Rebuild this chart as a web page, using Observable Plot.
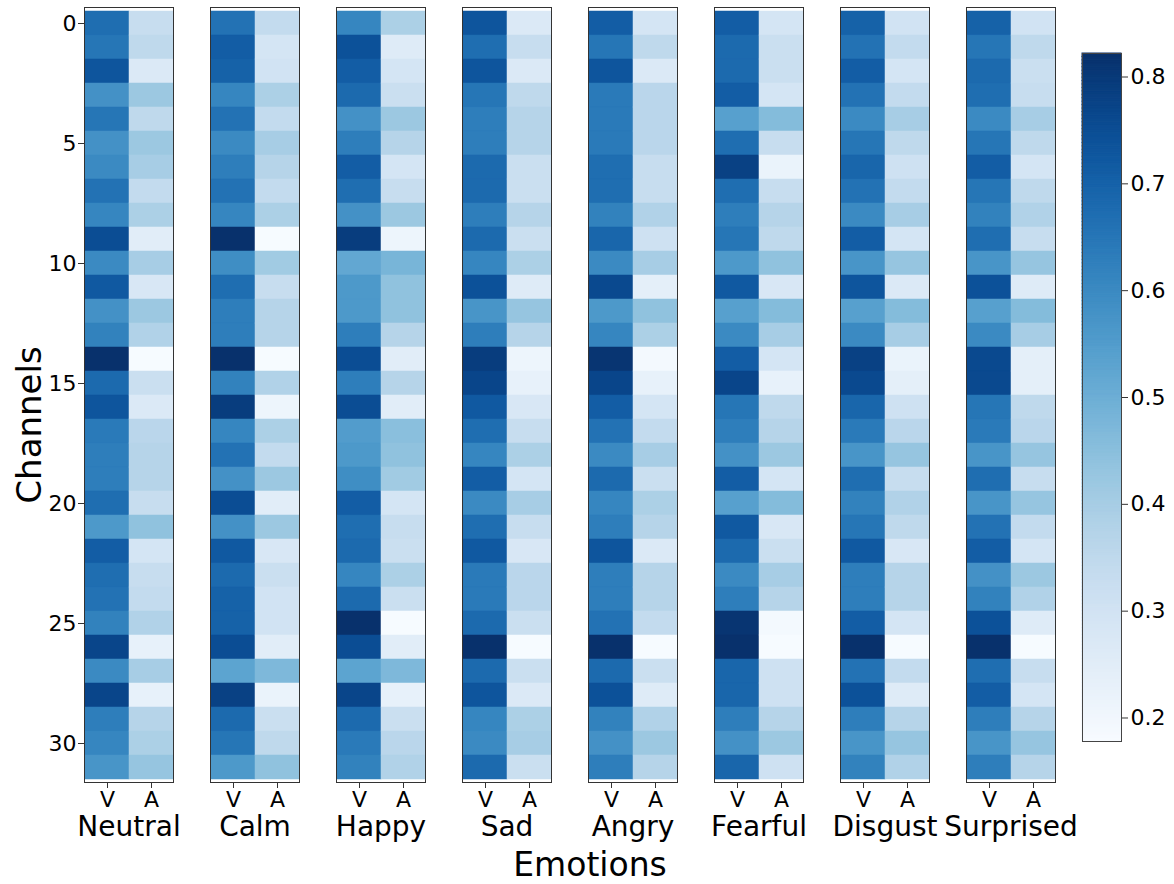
<!DOCTYPE html>
<html><head><meta charset="utf-8">
<script src="https://cdn.jsdelivr.net/npm/d3@7"></script>
<script src="https://cdn.jsdelivr.net/npm/@observablehq/plot@0.6"></script>
<style>
body{margin:0;background:#fff;font-family:"DejaVu Sans",sans-serif}
#wrap{position:relative;width:1174px;height:884px}
#main{position:absolute;left:0;top:0}
#cbar{position:absolute;left:1040px;top:0}
</style></head><body><div id="wrap"><div id="main"></div><div id="cbar"></div></div>
<script>
const emotions = ["Neutral","Calm","Happy","Sad","Angry","Fearful","Disgust","Surprised"];
const dims = ["V","A"];
const channels = d3.range(32);
const yTicks = [0,5,10,15,20,25,30];
const cbarTicks = [0.2,0.3,0.4,0.5,0.6,0.7,0.8];
const cMin = 0.178, cMax = 0.822;

const neutralV = [0.67,0.65,0.73,0.58,0.65,0.58,0.60,0.66,0.61,0.75,0.60,0.72,0.58,0.62,0.82,0.68,0.73,0.64,0.63,0.63,0.67,0.56,0.71,0.67,0.66,0.62,0.77,0.60,0.77,0.63,0.61,0.57];
const neutralA = [0.33,0.35,0.27,0.42,0.35,0.42,0.40,0.34,0.39,0.25,0.40,0.28,0.42,0.38,0.18,0.32,0.27,0.36,0.37,0.37,0.33,0.44,0.29,0.33,0.34,0.38,0.23,0.40,0.23,0.37,0.39,0.43];
const calmV = [0.66,0.71,0.70,0.61,0.66,0.60,0.63,0.66,0.61,0.82,0.59,0.67,0.63,0.63,0.82,0.62,0.79,0.61,0.66,0.58,0.75,0.58,0.72,0.68,0.70,0.70,0.75,0.53,0.78,0.68,0.65,0.56];
const calmA = [0.34,0.29,0.30,0.39,0.34,0.40,0.37,0.34,0.39,0.18,0.41,0.33,0.37,0.37,0.18,0.38,0.21,0.39,0.34,0.42,0.25,0.42,0.28,0.32,0.30,0.30,0.25,0.47,0.22,0.32,0.35,0.44];
const happyV = [0.61,0.74,0.71,0.68,0.58,0.63,0.71,0.67,0.58,0.79,0.52,0.56,0.56,0.63,0.75,0.63,0.75,0.55,0.56,0.59,0.71,0.67,0.68,0.61,0.68,0.82,0.75,0.53,0.77,0.68,0.64,0.62];
const happyA = [0.39,0.26,0.29,0.32,0.42,0.37,0.29,0.33,0.42,0.21,0.48,0.44,0.44,0.37,0.25,0.37,0.25,0.45,0.44,0.41,0.29,0.33,0.32,0.39,0.32,0.18,0.25,0.47,0.23,0.32,0.36,0.38];
const sadV = [0.73,0.67,0.73,0.65,0.63,0.63,0.68,0.68,0.63,0.68,0.61,0.74,0.57,0.63,0.79,0.77,0.72,0.67,0.61,0.71,0.60,0.67,0.72,0.64,0.64,0.68,0.82,0.68,0.73,0.61,0.60,0.68];
const sadA = [0.27,0.33,0.27,0.35,0.37,0.37,0.32,0.32,0.37,0.32,0.39,0.26,0.43,0.37,0.21,0.23,0.28,0.33,0.39,0.29,0.40,0.33,0.28,0.36,0.36,0.32,0.18,0.32,0.27,0.39,0.40,0.32];
const angryV = [0.71,0.65,0.73,0.64,0.64,0.64,0.67,0.67,0.62,0.69,0.60,0.76,0.56,0.61,0.81,0.77,0.71,0.66,0.60,0.68,0.61,0.63,0.73,0.63,0.63,0.66,0.82,0.68,0.74,0.62,0.58,0.63];
const angryA = [0.29,0.35,0.27,0.36,0.36,0.36,0.33,0.33,0.38,0.31,0.40,0.24,0.44,0.39,0.19,0.23,0.29,0.34,0.40,0.32,0.39,0.37,0.27,0.37,0.37,0.34,0.18,0.32,0.26,0.38,0.42,0.37];
const fearfulV = [0.71,0.68,0.68,0.71,0.54,0.67,0.78,0.67,0.63,0.65,0.56,0.72,0.54,0.60,0.71,0.77,0.65,0.63,0.58,0.71,0.54,0.72,0.68,0.60,0.63,0.81,0.82,0.69,0.69,0.63,0.58,0.69];
const fearfulA = [0.29,0.32,0.32,0.29,0.46,0.33,0.22,0.33,0.37,0.35,0.44,0.28,0.46,0.40,0.29,0.23,0.35,0.37,0.42,0.29,0.46,0.28,0.32,0.40,0.37,0.19,0.18,0.31,0.31,0.37,0.42,0.31];
const disgustV = [0.70,0.66,0.71,0.66,0.60,0.65,0.69,0.66,0.60,0.71,0.57,0.73,0.54,0.60,0.78,0.76,0.69,0.64,0.57,0.67,0.62,0.65,0.72,0.63,0.63,0.71,0.82,0.66,0.74,0.63,0.57,0.62];
const disgustA = [0.30,0.34,0.29,0.34,0.40,0.35,0.31,0.34,0.40,0.29,0.43,0.27,0.46,0.40,0.22,0.24,0.31,0.36,0.43,0.33,0.38,0.35,0.28,0.37,0.37,0.29,0.18,0.34,0.26,0.37,0.43,0.38];
const surprisedV = [0.70,0.65,0.68,0.67,0.60,0.65,0.71,0.65,0.62,0.67,0.57,0.74,0.54,0.60,0.76,0.76,0.65,0.64,0.57,0.67,0.57,0.66,0.71,0.58,0.62,0.74,0.82,0.67,0.71,0.63,0.57,0.63];
const surprisedA = [0.30,0.35,0.32,0.33,0.40,0.35,0.29,0.35,0.38,0.33,0.43,0.26,0.46,0.40,0.24,0.24,0.35,0.36,0.43,0.33,0.43,0.34,0.29,0.42,0.38,0.26,0.18,0.33,0.29,0.37,0.43,0.37];

const series = {
  Neutral:[neutralV,neutralA], Calm:[calmV,calmA], Happy:[happyV,happyA], Sad:[sadV,sadA],
  Angry:[angryV,angryA], Fearful:[fearfulV,fearfulA], Disgust:[disgustV,disgustA], Surprised:[surprisedV,surprisedA]
};
const data = [];
for (const e of emotions) {
  dims.forEach((d, k) => {
    series[e][k].forEach((v, i) => data.push({emotion:e, dim:d, channel:channels[i], value:v}));
  });
}

const colorOpts = {type:"linear", scheme:"blues", domain:[cMin,cMax]};

const main = Plot.plot({
  width:1040, height:884, marginLeft:83, marginRight:-16, marginTop:7, marginBottom:102,
  style:{fontFamily:"DejaVu Sans", fontSize:"22px", color:"#000", background:"transparent"},
  fx:{domain:emotions, paddingInner:0.295, paddingOuter:0, label:null},
  x:{domain:dims, padding:0, label:null},
  y:{domain:channels, padding:0, label:null},
  color:colorOpts,
  marks:[
    Plot.cell(data,{fx:"emotion", x:"dim", y:"channel", fill:"value", stroke:"value", strokeWidth:0.5, inset:0}),
    Plot.frame({stroke:"#333", strokeWidth:1}),
    Plot.axisY({ticks:yTicks, tickSize:6, tickPadding:2, fontSize:22, label:null, stroke:"#333"}),
    Plot.axisX({anchor:"bottom", tickSize:6, tickPadding:3, fontSize:22, label:null, stroke:"#333"}),
    Plot.axisFx({anchor:"bottom", tickSize:0, tickPadding:34, fontSize:28, label:null})
  ]
});
document.getElementById("main").appendChild(main);

const svg = d3.select(main.tagName.toLowerCase()==="svg" ? main : main.querySelector("svg"));
svg.attr("overflow","visible");
svg.append("text").attr("transform","translate(41,425) rotate(-90)")
  .attr("text-anchor","middle").attr("font-size",34).attr("font-family","DejaVu Sans").attr("fill","#000").text("Channels");
svg.append("text").attr("x",590).attr("y",876)
  .attr("text-anchor","middle").attr("font-size",33).attr("font-family","DejaVu Sans").attr("fill","#000").text("Emotions");

const nSteps = 200;
const stepSize = (cMax - cMin) / nSteps;
const stops = d3.range(nSteps).map(i => cMin + i * stepSize);
const cbar = Plot.plot({
  width:134, height:884, marginLeft:42, marginRight:53, marginTop:53, marginBottom:143,
  style:{fontFamily:"DejaVu Sans", fontSize:"22px", color:"#000", background:"transparent"},
  x:{domain:[0,1], axis:null},
  y:{domain:[cMin,cMax], label:null},
  color:colorOpts,
  marks:[
    Plot.rect(stops,{x1:0, x2:1, y1:d=>d, y2:d=>d+stepSize, fill:d=>d+stepSize/2, stroke:d=>d+stepSize/2, strokeWidth:1}),
    Plot.frame({stroke:"#444", strokeWidth:1}),
    Plot.axisY({anchor:"right", ticks:cbarTicks, tickFormat:d3.format(".1f"), tickSize:6, tickPadding:3, fontSize:22, label:null, stroke:"#333"})
  ]
});
document.getElementById("cbar").appendChild(cbar);
</script></body></html>
